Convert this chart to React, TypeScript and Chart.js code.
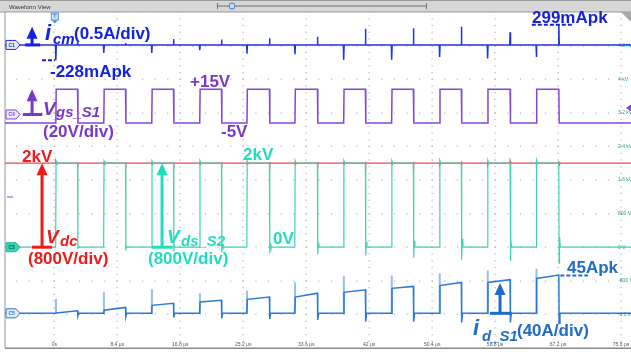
import React, { useEffect, useRef } from 'react';
import { Chart, registerables } from 'chart.js';

Chart.register(...registerables);

// ---- axis ticks / labels ----
const timeTicks = [0, 8.4, 16.8, 25.2, 33.6, 42, 50.4, 58.8, 67.2, 75.6];
const timeLabels = ['0s', '8.4 µs', '16.8 µs', '25.2 µs', '33.6 µs', '42 µs', '50.4 µs', '58.8 µs', '67.2 µs', '75.6 µs'];
const voltTicks = [-1600, -800, 0, 800, 1600, 2400, 3200, 4000, 4800];
const voltLabels = ['-1.6 kV', '-800 V', '0 V', '800 V', '1.6 kV', '2.4 kV', '3.2 kV', '4 kV', '4.8 kV'];

// ---- switching instants (µs) ----
const riseTimes = [0.2, 6.6, 13.0, 19.4, 25.7, 32.1, 38.6, 45.0, 51.4, 57.8, 64.3];
const fallTimes = [3.1, 9.5, 15.9, 22.3, 28.7, 35.1, 41.5, 47.9, 54.3, 60.8, 67.3];

// ---- v_gs_S1 (V) ----
const gateHigh = 15;
const gateLow = -5;

// ---- v_dc (V) ----
const vdcLevel = 2000;
const vdcSpikes = [20, 25, 25, 25, 30, 30, 35, 35, 40, 40, 45];

// ---- v_ds_S2 (V) ----
const vdsHigh = 2000;
const vdsRiseOvershoot = [50, 50, 50, 55, 55, 60, 60, 60, 65, 65, 70];
const vdsFallDip = [-40, -80, -100, -120, -150, -170, -200, -250, -300, -330, -380];
const vdsFallRing = [20, 40, 50, 60, 80, 90, 120, 150, 200, 220, 250];

// ---- i_cm (A) ----
const icmRiseSpike = [-0.228, -0.12, -0.12, -0.08, -0.13, -0.14, -0.22, -0.22, -0.18, -0.2, -0.18];
const icmFallSpike = [0.04, 0.03, 0.09, 0.08, 0.1, 0.12, 0.24, 0.25, 0.27, 0.19, 0.299];
const icmPeakPos = 0.299;
const icmPeakNeg = -0.228;

// ---- i_d_S1 (A) ----
const idRiseSpike = [17, 25, 28.5, 24, 27, 37, 44, 45, 47.5, 51, 53];
const idStart = [0.5, 3.6, 9.5, 13.4, 16.6, 19.3, 25, 29.7, 33, 36.8, 41.5];
const idEnd = [3, 7, 12, 15.4, 19.3, 24, 28, 32, 36.8, 40, 45.5];
const idFallDip = [-3, -4, -5, -6, -7, -8, -10, -10, -11, -11, -12];
const idPeak = 45;

const X_MIN = -6.58;
const X_MAX = 76.93;

type P = { x: number; y: number | null };

function buildGate(): P[] {
  const pts: P[] = [{ x: X_MIN, y: gateLow }];
  riseTimes.forEach((r, k) => {
    const f = fallTimes[k];
    pts.push({ x: r, y: gateLow }, { x: r + 0.05, y: gateHigh }, { x: f, y: gateHigh }, { x: f + 0.05, y: gateLow });
  });
  pts.push({ x: X_MAX, y: gateLow });
  return pts;
}

function buildVdc(): P[] {
  const pts: P[] = [{ x: X_MIN, y: vdcLevel }];
  riseTimes.forEach((r, k) => {
    const f = fallTimes[k];
    const s = vdcSpikes[k];
    [r, f].forEach((t) => {
      pts.push({ x: t - 0.02, y: vdcLevel }, { x: t, y: vdcLevel + s }, { x: t + 0.05, y: vdcLevel - s }, { x: t + 0.1, y: vdcLevel });
    });
  });
  pts.push({ x: X_MAX, y: vdcLevel });
  return pts;
}

function buildVds(): P[] {
  const pts: P[] = [{ x: X_MIN, y: 0 }];
  riseTimes.forEach((r, k) => {
    const f = fallTimes[k];
    pts.push(
      { x: r - 0.02, y: 0 },
      { x: r + 0.03, y: vdsHigh + vdsRiseOvershoot[k] },
      { x: r + 0.15, y: vdsHigh },
      { x: f, y: vdsHigh },
      { x: f + 0.04, y: vdsFallDip[k] },
      { x: f + 0.1, y: vdsFallRing[k] },
      { x: f + 0.2, y: 0 }
    );
  });
  pts.push({ x: X_MAX, y: 0 });
  return pts;
}

function buildIcm(): P[] {
  const pts: P[] = [{ x: X_MIN, y: 0 }];
  riseTimes.forEach((r, k) => {
    const f = fallTimes[k];
    pts.push({ x: r - 0.04, y: 0 }, { x: r, y: icmRiseSpike[k] }, { x: r + 0.06, y: 0 });
    pts.push({ x: f - 0.04, y: 0 }, { x: f, y: icmFallSpike[k] }, { x: f + 0.06, y: 0 });
  });
  pts.push({ x: X_MAX, y: 0 });
  return pts;
}

function buildId(): P[] {
  const pts: P[] = [{ x: X_MIN, y: 0 }];
  riseTimes.forEach((r, k) => {
    const f = fallTimes[k];
    pts.push(
      { x: r - 0.02, y: 0 },
      { x: r + 0.04, y: idStart[k] },
      { x: f, y: idEnd[k] },
      { x: f + 0.04, y: idFallDip[k] },
      { x: f + 0.15, y: 0 }
    );
  });
  pts.push({ x: X_MAX, y: 0 });
  return pts;
}

// light ringing spikes on i_d at turn-on
function buildIdSpikes(): P[] {
  const pts: P[] = [];
  riseTimes.forEach((r, k) => {
    pts.push({ x: r, y: 0 }, { x: r + 0.02, y: idRiseSpike[k] }, { x: r + 0.04, y: null });
  });
  return pts;
}

const C_ICM_LINE = '#2233dd';
const C_ICM_TEXT = '#1420e2';
const C_GATE_LINE = '#8445d8';
const C_GATE_TEXT = '#7a38c6';
const C_RED_LINE = '#f04848';
const C_RED_TEXT = '#f01a1a';
const C_TEAL_LINE = '#3cd2b4';
const C_TEAL_TEXT = '#22dcc0';
const C_ID_LINE = '#2a78d8';
const C_ID_TEXT = '#1e6cc8';
const FONT = "'Liberation Sans', Arial, sans-serif";

function drawArrow(ctx: CanvasRenderingContext2D, x: number, y0: number, y1: number, color: string) {
  const head = 12;
  const hw = 5.5;
  ctx.strokeStyle = color;
  ctx.fillStyle = color;
  ctx.lineWidth = 3;
  ctx.beginPath();
  ctx.moveTo(x, y0);
  ctx.lineTo(x, y1 + head - 1);
  ctx.stroke();
  ctx.beginPath();
  ctx.moveTo(x, y1);
  ctx.lineTo(x - hw, y1 + head);
  ctx.lineTo(x + hw, y1 + head);
  ctx.closePath();
  ctx.fill();
}

function hline(ctx: CanvasRenderingContext2D, x0: number, x1: number, y: number, color: string, w: number, dash: number[] = []) {
  ctx.strokeStyle = color;
  ctx.lineWidth = w;
  ctx.setLineDash(dash);
  ctx.beginPath();
  ctx.moveTo(x0, y);
  ctx.lineTo(x1, y);
  ctx.stroke();
  ctx.setLineDash([]);
}

function text(ctx: CanvasRenderingContext2D, s: string, x: number, y: number, font: string, color: string) {
  ctx.font = font;
  ctx.fillStyle = color;
  ctx.textAlign = 'left';
  ctx.textBaseline = 'alphabetic';
  ctx.fillText(s, x, y);
}

function tag(ctx: CanvasRenderingContext2D, y: number, stroke: string, fill: string, label: string, tc: string) {
  ctx.beginPath();
  ctx.moveTo(6, y - 4.5);
  ctx.lineTo(16, y - 4.5);
  ctx.lineTo(20, y);
  ctx.lineTo(16, y + 4.5);
  ctx.lineTo(6, y + 4.5);
  ctx.closePath();
  ctx.fillStyle = fill;
  ctx.fill();
  ctx.strokeStyle = stroke;
  ctx.lineWidth = 1;
  ctx.stroke();
  ctx.font = `bold 5px ${FONT}`;
  ctx.fillStyle = tc;
  ctx.textAlign = 'left';
  ctx.textBaseline = 'middle';
  ctx.fillText(label, 8.5, y + 0.5);
}

const scopePlugin = {
  id: 'scope',
  beforeDraw(chart: any) {
    const ctx: CanvasRenderingContext2D = chart.ctx;
    const W = chart.width;
    ctx.save();
    ctx.fillStyle = '#d7d7d7';
    ctx.fillRect(0, 0, W, 12);
    ctx.fillStyle = '#9a9a9a';
    ctx.fillRect(0, 0, W, 1);
    ctx.fillRect(0, 11.5, W, 1);
    text(ctx, 'Waveform View', 9, 8.5, `6px ${FONT}`, '#333');
    hline(ctx, 218, 426, 6, '#6f6f6f', 1);
    ctx.fillStyle = '#6f6f6f';
    ctx.fillRect(217, 3, 1, 6);
    ctx.fillRect(426, 3, 1, 6);
    ctx.beginPath();
    ctx.arc(232, 6, 3, 0, Math.PI * 2);
    ctx.fillStyle = '#c8dcf2';
    ctx.fill();
    ctx.strokeStyle = '#3a7cc8';
    ctx.stroke();
    ctx.restore();
  },
  beforeDatasetsDraw(chart: any) {
    const ctx: CanvasRenderingContext2D = chart.ctx;
    const { left, right, top, bottom } = chart.chartArea;
    const sx = chart.scales.x;
    const sy = chart.scales.y;
    ctx.save();
    ctx.fillStyle = '#b4b4b4';
    timeTicks.forEach((t) => {
      const x = Math.round(sx.getPixelForValue(t));
      for (let v = -2400; v <= 5600; v += 160) {
        const y = sy.getPixelForValue(v);
        ctx.fillRect(x - 0.5, y - 0.5, 1.2, 1.2);
      }
    });
    voltTicks.forEach((v) => {
      const y = Math.round(sy.getPixelForValue(v));
      let t0 = 0;
      while (t0 - 1.68 >= X_MIN) t0 -= 1.68;
      for (let t = t0; t <= X_MAX; t += 1.68) {
        const x = sx.getPixelForValue(t);
        ctx.fillRect(x - 0.5, y - 0.5, 1.2, 1.2);
      }
    });
    ctx.fillStyle = '#9a9a9a';
    ctx.fillRect(left - 0.5, top, 1, bottom - top);
    ctx.fillStyle = '#8a8a8a';
    ctx.fillRect(left, bottom - 0.5, right - left, 1.5);
    ctx.font = `5px ${FONT}`;
    ctx.fillStyle = '#555';
    ctx.textAlign = 'center';
    ctx.textBaseline = 'alphabetic';
    timeTicks.forEach((t, i) => {
      ctx.fillText(timeLabels[i], sx.getPixelForValue(t), bottom - 2.5);
    });
    ctx.fillStyle = '#2f9a82';
    ctx.textAlign = 'left';
    ctx.textBaseline = 'middle';
    voltTicks.forEach((v, i) => {
      ctx.fillText(voltLabels[i], sx.getPixelForValue(75.6) - 3, sy.getPixelForValue(v));
    });
    ctx.restore();
  },
  afterDatasetsDraw(chart: any) {
    const ctx: CanvasRenderingContext2D = chart.ctx;
    const sx = chart.scales.x;
    const sy = chart.scales.y;
    const sg = chart.scales.yG;
    const sc = chart.scales.yC;
    const si = chart.scales.yI;
    const px = (t: number) => sx.getPixelForValue(t);
    ctx.save();

    tag(ctx, sc.getPixelForValue(0), C_ICM_LINE, '#e4e8fb', 'C1', C_ICM_LINE);
    tag(ctx, sg.getPixelForValue(0), C_GATE_LINE, '#eee6fa', 'C4', C_GATE_LINE);
    tag(ctx, sy.getPixelForValue(0), '#20b896', '#3cd2b4', 'C3', '#0d5a48');
    tag(ctx, si.getPixelForValue(0), C_ID_LINE, '#e2edfb', 'C5', C_ID_LINE);
    hline(ctx, 7, 13, 197, C_GATE_LINE, 1);

    const tx = px(0) + 0.5;
    ctx.fillStyle = '#cfe3f7';
    ctx.strokeStyle = '#4a90d8';
    ctx.lineWidth = 1;
    ctx.fillRect(tx - 3.5, 13, 7, 7);
    ctx.strokeRect(tx - 3.5, 13, 7, 7);
    ctx.beginPath();
    ctx.moveTo(tx - 3, 20.5);
    ctx.lineTo(tx + 3, 20.5);
    ctx.lineTo(tx, 23.5);
    ctx.closePath();
    ctx.fillStyle = '#4a90d8';
    ctx.fill();
    ctx.font = `bold 6px ${FONT}`;
    ctx.textAlign = 'center';
    ctx.textBaseline = 'middle';
    ctx.fillText('T', tx, 16.8);

    ctx.beginPath();
    ctx.moveTo(621, 12);
    ctx.lineTo(631, 12);
    ctx.lineTo(631, 22);
    ctx.closePath();
    ctx.fillStyle = '#a8a8a8';
    ctx.fill();

    const my = sg.getPixelForValue(3.9);
    ctx.beginPath();
    ctx.moveTo(626, my);
    ctx.lineTo(631, my - 3.5);
    ctx.lineTo(631, my + 3.5);
    ctx.closePath();
    ctx.fillStyle = C_GATE_LINE;
    ctx.fill();

    const c0 = sc.getPixelForValue(0);
    hline(ctx, px(-3.9), px(-1.9), c0, C_ICM_TEXT, 3);
    drawArrow(ctx, px(-2.97), c0, sc.getPixelForValue(0.27), C_ICM_TEXT);

    const g0 = sg.getPixelForValue(0);
    hline(ctx, px(-4.2), px(-1.6), g0, C_GATE_TEXT, 3);
    drawArrow(ctx, px(-2.97), g0, sg.getPixelForValue(15), C_GATE_TEXT);

    const v0 = sy.getPixelForValue(0);
    hline(ctx, px(-2.97), px(-0.3), v0, C_RED_TEXT, 3);
    drawArrow(ctx, px(-1.64), v0, sy.getPixelForValue(2000), C_RED_TEXT);

    hline(ctx, px(13.0), px(15.8), v0, C_TEAL_TEXT, 3);
    drawArrow(ctx, px(14.37), v0, sy.getPixelForValue(2000), C_TEAL_TEXT);

    const i0 = si.getPixelForValue(0);
    hline(ctx, px(58.1), px(61.0), i0, C_ID_TEXT, 3);
    drawArrow(ctx, px(59.46), i0, si.getPixelForValue(36), C_ID_TEXT);

    hline(ctx, px(63.7), px(69.2), sc.getPixelForValue(icmPeakPos), C_ICM_TEXT, 2, [4, 2]);
    hline(ctx, px(-1.64), px(0.1), sc.getPixelForValue(icmPeakNeg), C_ICM_TEXT, 2, [4, 2]);
    hline(ctx, px(67.5), px(71.2), si.getPixelForValue(idPeak), C_ID_TEXT, 2, [4, 2]);

    const B = `bold 17px ${FONT}`;
    const BI = (s: number) => `italic bold ${s}px ${FONT}`;
    text(ctx, 'i', 45, 40, BI(22), C_ICM_TEXT);
    text(ctx, 'cm', 53, 44, BI(15), C_ICM_TEXT);
    text(ctx, '(0.5A/div)', 74, 39, B, C_ICM_TEXT);
    text(ctx, '299mApk', 532, 23, B, C_ICM_TEXT);
    text(ctx, '-228mApk', 50, 77, B, C_ICM_TEXT);
    text(ctx, '+15V', 190, 87, B, C_GATE_TEXT);
    text(ctx, '-5V', 221, 137, B, C_GATE_TEXT);
    text(ctx, 'V', 43, 115, BI(19), C_GATE_TEXT);
    text(ctx, 'gs_S1', 56, 117, BI(15), C_GATE_TEXT);
    text(ctx, '(20V/div)', 43, 137, B, C_GATE_TEXT);
    text(ctx, '2kV', 22, 162, B, C_RED_TEXT);
    text(ctx, 'V', 46, 243, BI(19), C_RED_TEXT);
    text(ctx, 'dc', 60, 246, BI(15), C_RED_TEXT);
    text(ctx, '(800V/div)', 28, 264, B, C_RED_TEXT);
    text(ctx, '2kV', 243, 160, B, C_TEAL_TEXT);
    text(ctx, '0V', 273, 244, B, C_TEAL_TEXT);
    text(ctx, 'V', 167, 243, BI(19), C_TEAL_TEXT);
    text(ctx, 'ds_S2', 181, 246, BI(15), C_TEAL_TEXT);
    text(ctx, '(800V/div)', 148, 264, B, C_TEAL_TEXT);
    text(ctx, '45Apk', 567, 273, B, C_ID_TEXT);
    text(ctx, 'i', 473, 335, BI(22), C_ID_TEXT);
    text(ctx, 'd_S1', 482, 341, BI(15), C_ID_TEXT);
    text(ctx, '(40A/div)', 517, 336, B, C_ID_TEXT);

    ctx.restore();
  },
};

export default function App() {
  const ref = useRef<HTMLCanvasElement | null>(null);
  useEffect(() => {
    if (!ref.current) return;
    const chart = new Chart(ref.current, {
      type: 'line',
      data: {
        datasets: [
          { label: 'i_d_S1', data: buildId(), yAxisID: 'yI', borderColor: C_ID_LINE, borderWidth: 1.5, order: 1 },
          { label: 'i_d_S1 ringing', data: buildIdSpikes(), yAxisID: 'yI', borderColor: 'rgba(120,175,235,0.8)', borderWidth: 2, spanGaps: false, order: 2 },
          { label: 'i_cm', data: buildIcm(), yAxisID: 'yC', borderColor: C_ICM_LINE, borderWidth: 1.5, order: 3 },
          { label: 'v_gs_S1', data: buildGate(), yAxisID: 'yG', borderColor: C_GATE_LINE, borderWidth: 1.5, order: 4 },
          { label: 'v_ds_S2', data: buildVds(), yAxisID: 'y', borderColor: C_TEAL_LINE, borderWidth: 1.2, order: 5 },
          { label: 'v_dc', data: buildVdc(), yAxisID: 'y', borderColor: C_RED_LINE, borderWidth: 1.3, order: 6 },
        ] as any,
      },
      options: {
        animation: false,
        responsive: false,
        maintainAspectRatio: false,
        events: [],
        elements: { point: { radius: 0 }, line: { tension: 0, fill: false } },
        layout: { padding: { left: 5, right: 0, top: 12, bottom: 6 } },
        plugins: { legend: { display: false }, tooltip: { enabled: false } },
        scales: {
          x: { type: 'linear', min: X_MIN, max: X_MAX, display: false },
          y: { type: 'linear', min: -2400, max: 5600, display: false },
          yG: { type: 'linear', min: -139, max: 61, display: false },
          yC: { type: 'linear', min: -4.51, max: 0.49, display: false },
          yI: { type: 'linear', min: -41.3, max: 358.7, display: false },
        },
      } as any,
      plugins: [scopePlugin],
    });
    return () => chart.destroy();
  }, []);
  return (
    <div style={{ position: 'absolute', left: 0, top: 0, width: 631, height: 354, background: '#fff' }}>
      <canvas ref={ref} width={631} height={354} style={{ display: 'block', width: 631, height: 354 }} />
    </div>
  );
}
